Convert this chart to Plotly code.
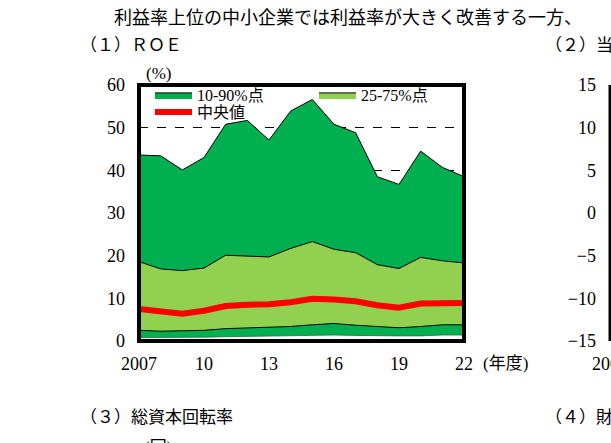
import plotly.graph_objects as go

# ---- data ----
years = list(range(2007, 2023))
p90 = [43.6, 43.4, 40.1, 43.0, 50.8, 51.7, 47.1, 53.9, 56.6, 50.8, 48.8, 38.5, 36.7, 44.5, 40.7, 38.5]
p75 = [18.6, 16.9, 16.5, 17.1, 20.1, 19.9, 19.7, 21.7, 23.3, 21.5, 20.7, 17.9, 17.0, 19.6, 18.8, 18.3]
median = [7.5, 6.8, 6.4, 7.1, 8.2, 8.5, 8.6, 9.1, 9.9, 9.7, 9.3, 8.4, 7.8, 8.8, 9.0, 8.9]
p25 = [2.5, 2.3, 2.4, 2.5, 2.9, 3.1, 3.3, 3.4, 3.8, 4.1, 3.7, 3.4, 3.1, 3.4, 3.8, 3.8]
p10 = [0.8, 0.8, 0.8, 0.9, 1.0, 1.1, 1.2, 1.3, 1.4, 1.4, 1.3, 1.2, 1.2, 1.2, 1.4, 1.4]

x_tickvals = [2007, 2010, 2013, 2016, 2019, 2022]
x_ticktext = ["2007", "10", "13", "16", "19", "22"]
y_tickvals = [0, 10, 20, 30, 40, 50, 60]
y2_tickvals = [-15, -10, -5, 0, 5, 10, 15]

series_names = ["10-90%点", "25-75%点", "中央値"]
main_title = "利益率上位の中小企業では利益率が大きく改善する一方、"
panel_titles = ["（１）ＲＯＥ", "（２）当", "（３）総資本回転率", "（４）財"]

W, H = 611, 443
DARK = "#00B050"
LIGHT = "#92D050"
RED = "#FF0000"
SERIF = "Liberation Serif, 'Noto Sans CJK JP', serif"
GOTHIC = "'Noto Sans CJK JP', sans-serif"


def px(x):
    return x / W


def py(y):
    return (H - y) / H


fig = go.Figure()

fig.add_trace(go.Scatter(x=years, y=p10, mode="lines", line=dict(color="#1f6f3a", width=0.8),
                         showlegend=False, hoverinfo="skip"))
fig.add_trace(go.Scatter(x=years, y=p90, mode="lines", fill="tonexty", fillcolor=DARK,
                         line=dict(color="black", width=1), name=series_names[0],
                         legend="legend"))
fig.add_trace(go.Scatter(x=years, y=p25, mode="lines", line=dict(color="black", width=1),
                         showlegend=False, hoverinfo="skip"))
fig.add_trace(go.Scatter(x=years, y=p75, mode="lines", fill="tonexty", fillcolor=LIGHT,
                         line=dict(color="black", width=1), name=series_names[1],
                         legend="legend"))
fig.add_trace(go.Scatter(x=years, y=median, mode="lines", line=dict(color=RED, width=6),
                         name=series_names[2], legend="legend2"))

# panel (2) — only its left edge is visible
fig.add_trace(go.Scatter(x=[2007], y=[0], mode="markers", marker=dict(opacity=0),
                         xaxis="x2", yaxis="y2", showlegend=False, hoverinfo="skip"))

ydom = [py(341), py(85)]
legend_common = dict(orientation="h", xanchor="left", yanchor="middle",
                     bgcolor="rgba(0,0,0,0)", font=dict(family=SERIF, size=16),
                     entrywidth=112, entrywidthmode="pixels", itemwidth=37,
                     tracegroupgap=0, traceorder="normal")
fig.update_layout(
    width=W, height=H,
    margin=dict(l=0, r=0, t=0, b=0, pad=0, autoexpand=False),
    paper_bgcolor="white", plot_bgcolor="white",
    font=dict(family=SERIF, size=17, color="black"),
    xaxis=dict(domain=[px(139), px(464)], range=[2007, 2022], tickvals=x_tickvals,
               ticktext=x_ticktext, showgrid=False, zeroline=False, showline=False,
               ticks="", ticklabelstandoff=10, tickfont=dict(size=18, family=SERIF),
               automargin=False),
    yaxis=dict(domain=ydom, range=[0, 60], tickvals=y_tickvals, showgrid=True,
               gridcolor="black", griddash="dash", gridwidth=1, zeroline=False,
               showline=False, ticks="", ticklabelstandoff=13,
               tickfont=dict(size=18, family=SERIF), automargin=False),
    xaxis2=dict(domain=[px(610), 1.0], range=[2007, 2008], tickvals=[2007], ticktext=["2007"],
                showgrid=False, zeroline=False, showline=False, ticks="", ticklabelstandoff=10,
                tickfont=dict(size=18, family=SERIF), anchor="y2", automargin=False,
                ticklabeloverflow="allow"),
    yaxis2=dict(domain=ydom, range=[-15, 15], tickvals=y2_tickvals, showgrid=False,
                zeroline=False, showline=False, ticks="", ticklabelstandoff=13,
                tickfont=dict(size=18, family=SERIF), anchor="x2", automargin=False),
    legend=dict(x=px(150), y=py(95), **legend_common),
    legend2=dict(x=px(150), y=py(112), **legend_common),
    showlegend=True,
)

fig.add_shape(type="rect", xref="x domain", yref="y domain", x0=0, x1=1, y0=0, y1=1,
              line=dict(color="black", width=4), fillcolor="rgba(0,0,0,0)", layer="above")
fig.add_shape(type="line", xref="x2 domain", yref="y2 domain", x0=0, x1=0, y0=0, y1=1,
              line=dict(color="black", width=3), layer="above")

annots = [
    dict(text=main_title, x=px(112), y=py(16), xanchor="left", font=dict(family=GOTHIC, size=18)),
    dict(text=panel_titles[0], x=px(78), y=py(44), xanchor="left", font=dict(family=GOTHIC, size=17)),
    dict(text=panel_titles[1], x=px(543), y=py(44), xanchor="left", font=dict(family=GOTHIC, size=17)),
    dict(text=panel_titles[2], x=px(78), y=py(415), xanchor="left", font=dict(family=GOTHIC, size=17)),
    dict(text=panel_titles[3], x=px(543), y=py(415), xanchor="left", font=dict(family=GOTHIC, size=17)),
    dict(text="(%)", x=px(158), y=py(73), xanchor="center", font=dict(family=SERIF, size=17)),
    dict(text="(回)", x=px(158), y=py(447), xanchor="center", font=dict(family=SERIF, size=17)),
    dict(text="(年度)", x=px(505), y=py(363), xanchor="center", font=dict(family=SERIF, size=17)),
]
for a in annots:
    fig.add_annotation(xref="paper", yref="paper", yanchor="middle", showarrow=False, **a)

fig.write_html("out.html", config={"displayModeBar": False},
               post_script="document.body.style.margin='0';")
